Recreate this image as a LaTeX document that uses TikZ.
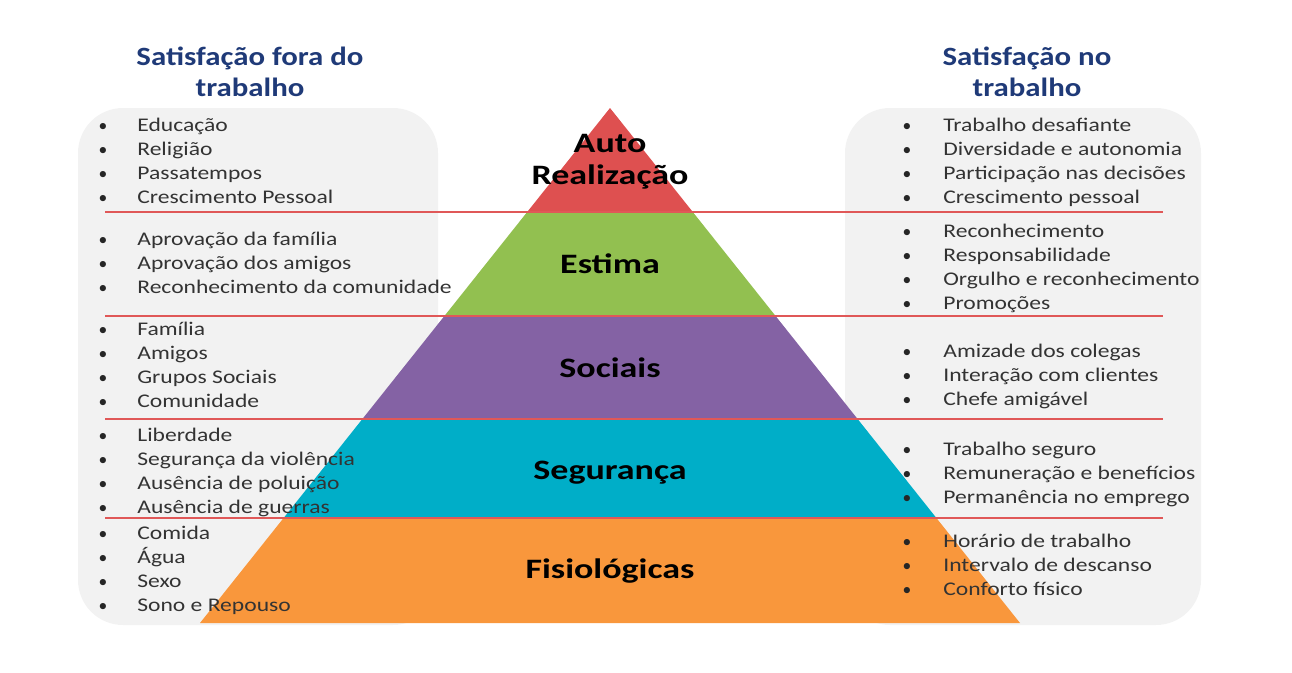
\documentclass[tikz,border=0pt]{standalone}
\usepackage{fontspec}
\setmainfont{Carlito}
\definecolor{titleblue}{HTML}{1F3A78}
\definecolor{boxgray}{HTML}{F2F2F2}
\definecolor{lvlred}{HTML}{DE5050}
\definecolor{lvlgreen}{HTML}{92C050}
\definecolor{lvlpurple}{HTML}{8462A4}
\definecolor{lvlteal}{HTML}{00AEC8}
\definecolor{lvlorange}{HTML}{F9973C}
\definecolor{sepred}{HTML}{E05858}
\begin{document}
\begin{tikzpicture}[x=0.02cm, y=-0.02cm, line join=round,
  heading/.style={font=\fontsize{15}{18}\selectfont\bfseries\addfontfeature{FakeStretch=1.17}, text=titleblue, align=center},
  level/.style={font=\fontsize{16}{18.2}\selectfont\bfseries\addfontfeature{FakeStretch=1.28}, align=center},
  entry/.style={font=\fontsize{11}{12}\selectfont\addfontfeature{FakeStretch=1.22}, text=black!80, anchor=base west, inner sep=0pt},
  dot/.style={font=\fontsize{10}{12}\selectfont, text=black!85, anchor=base, inner sep=0pt},
  sepline/.style={draw=sepred, line width=1.2pt}]
  \useasboundingbox (0,0) rectangle (1292,673);
  % gray panels
  \fill[boxgray, rounded corners=0.9cm] (78,108) rectangle (438,625);
  \fill[boxgray, rounded corners=0.9cm] (845,108) rectangle (1201,625);
  % pyramid
  \coordinate (apex) at (610,108);
  \fill[lvlred] (apex) -- (692.8,212) -- (527.2,212) -- cycle;
  \fill[lvlgreen] (527.2,212) -- (692.8,212) -- (775.6,316) -- (444.4,316) -- cycle;
  \fill[lvlpurple] (444.4,316) -- (775.6,316) -- (857.6,419) -- (362.4,419) -- cycle;
  \fill[lvlteal] (362.4,419) -- (857.6,419) -- (936.4,518) -- (283.6,518) -- cycle;
  \fill[lvlorange] (283.6,518) -- (936.4,518) -- (1020,623) -- (200,623) -- cycle;
  % separators
  \foreach \y in {212,316,419,518}
    \draw[sepline] (105,\y) -- (1163,\y);
  % headings
  \node[heading] (outside) at (250,72) {Satisfação fora do\\trabalho};
  \node[heading] (inside) at (1027,72) {Satisfação no\\trabalho};
  % levels
  \node[level] (auto) at (610,162) {Auto\\Realização};
  \node[level] (estima) at (610,264) {Estima};
  \node[level] (sociais) at (610,368) {Sociais};
  \node[level] (seguranca) at (610,473) {Segurança};
  \node[level] (fisio) at (610,571) {Fisiológicas};
  % left list
  \foreach \y/\txt [count=\i] in {125/Educação, 149/Religião, 173/Passatempos, 197/Crescimento Pessoal,
      239/Aprovação da família, 263/Aprovação dos amigos, 287/Reconhecimento da comunidade,
      329/Família, 353/Amigos, 377/Grupos Sociais, 401/Comunidade,
      435/Liberdade, 459/Segurança da violência, 483/Ausência de poluição, 507/Ausência de guerras,
      533/Comida, 557/Água, 581/Sexo, 605/Sono e Repouso} {
    \node[dot] (lb\i) at (103,\y+6) {\textbullet};
    \node[entry] (l\i) at (137,\y+6) {\txt};
  }
  % right list
  \foreach \y/\txt [count=\i] in {125/Trabalho desafiante, 149/Diversidade e autonomia, 173/Participação nas decisões, 197/Crescimento pessoal,
      231/Reconhecimento, 255/Responsabilidade, 279/Orgulho e reconhecimento, 303/Promoções,
      351/Amizade dos colegas, 375/Interação com clientes, 399/Chefe amigável,
      449/Trabalho seguro, 473/Remuneração e benefícios, 497/Permanência no emprego,
      541/Horário de trabalho, 565/Intervalo de descanso, 589/Conforto físico} {
    \node[dot] (rb\i) at (907,\y+6) {\textbullet};
    \node[entry] (r\i) at (943,\y+6) {\txt};
  }
\end{tikzpicture}
\end{document}
